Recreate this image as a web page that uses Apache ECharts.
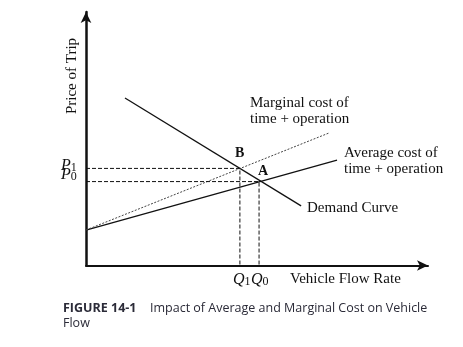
<!DOCTYPE html>
<html><head><meta charset="utf-8">
<script src="https://cdn.jsdelivr.net/npm/echarts@6/dist/echarts.min.js"></script>
<style>html,body{margin:0;padding:0;background:#fff}#c{width:463px;height:347px}</style>
</head><body><div id="c"></div>
<script>
// Data (x: flow units 0-100, y: price units 0-100)
const demandCurve  = [[11.4, 66.1], [62.9, 23.5]];
const averageCost  = [[0, 14.0], [73.4, 41.6]];
const marginalCost = [[0, 14.0], [71.1, 52.3]];
const pointB = [45.0, 38.3];   // (Q1, P1)
const pointA = [50.6, 33.1];   // (Q0, P0)
const priceTickLabels = ['1', '0'];  // P1, P0
const flowTickLabels = ['1', '0'];   // Q1, Q0

const serif = '"Liberation Serif", "DejaVu Serif", serif';
const sans = '"Open Sans", "Noto Sans", sans-serif';
const ink = '#111';
const capInk = '#2b2b38';

function guide(p) { return [[0, p[1]], [p[0], p[1]], [p[0], 0]]; }

const chart = echarts.init(document.getElementById('c'), null, {renderer: 'canvas'});
const axisCommon = {
  type: 'value', min: 0, max: 100,
  axisTick: {show: false}, axisLabel: {show: false}, splitLine: {show: false},
};
const subRich = {
  p: {fontFamily: serif, fontStyle: 'italic', fontSize: 16, color: ink},
  s: {fontFamily: serif, fontSize: 12, color: ink, verticalAlign: 'bottom'}
};
function txt(x, y, text, extra) {
  return {type: 'text', x: x, y: y, silent: true,
    style: Object.assign({text: text, font: '15px ' + serif, fill: ink, verticalAlign: 'top', align: 'left'}, extra || {})};
}
chart.setOption({
  animation: false,
  grid: {left: 86, right: 35, top: 12, bottom: 81.5},
  xAxis: Object.assign({}, axisCommon, {
    axisLine: {show: true, onZero: false, lineStyle: {color: ink, width: 2}, symbol: ['none', 'arrow'], symbolSize: [8, 11]}
  }),
  yAxis: Object.assign({}, axisCommon, {
    axisLine: {show: true, onZero: false, lineStyle: {color: ink, width: 2.5}, symbol: ['none', 'arrow'], symbolSize: [8, 11]}
  }),
  series: [
    {type: 'line', name: 'Demand Curve', data: demandCurve, symbol: 'none', lineStyle: {color: ink, width: 1.3}},
    {type: 'line', name: 'Average cost', data: averageCost, symbol: 'none', lineStyle: {color: ink, width: 1.3}},
    {type: 'line', name: 'Marginal cost', data: marginalCost, symbol: 'none', lineStyle: {color: '#444', width: 1, type: [2, 1.5]}},
    {type: 'line', name: 'B guide', data: guide(pointB), symbol: 'none', lineStyle: {color: ink, width: 1, type: [4, 2]}},
    {type: 'line', name: 'A guide', data: guide(pointA), symbol: 'none', lineStyle: {color: ink, width: 1, type: [4, 2]}}
  ],
  graphic: [
    {type: 'text', x: 72, y: 76, rotation: Math.PI / 2, silent: true,
      style: {text: 'Price of Trip', font: '15px ' + serif, fill: ink, align: 'center', verticalAlign: 'middle'}},
    txt(61, 158, '{p|P}{s|' + priceTickLabels[0] + '}', {rich: subRich}),
    txt(61, 167, '{p|P}{s|' + priceTickLabels[1] + '}', {rich: subRich}),
    txt(233, 272, '{p|Q}{s|' + flowTickLabels[0] + '}', {rich: subRich}),
    txt(251, 272, '{p|Q}{s|' + flowTickLabels[1] + '}', {rich: subRich}),
    txt(290, 272, 'Vehicle Flow Rate'),
    txt(235, 146, 'B', {font: 'bold 14px ' + serif}),
    txt(258, 164, 'A', {font: 'bold 14px ' + serif}),
    txt(250, 95, 'Marginal cost of\ntime + operation', {lineHeight: 16}),
    txt(344, 145, 'Average cost of\ntime + operation', {lineHeight: 16}),
    txt(307, 201, 'Demand Curve'),
    txt(63, 302, 'FIGURE 14-1', {font: 'bold 12.5px ' + sans, fill: capInk}),
    txt(150, 302, 'Impact of Average and Marginal Cost on Vehicle', {font: '12.5px ' + sans, fill: capInk}),
    txt(63, 317, 'Flow', {font: '12.5px ' + sans, fill: capInk})
  ]
});
</script></body></html>
